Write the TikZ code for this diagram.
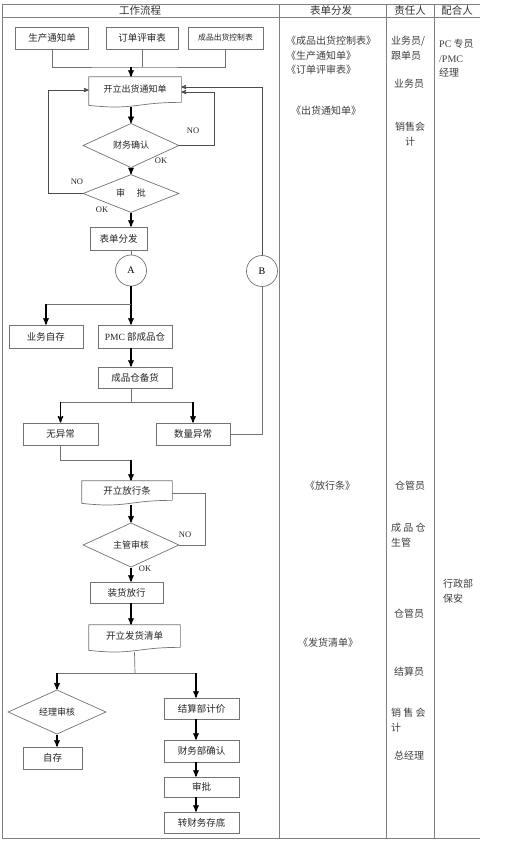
\documentclass[tikz,border=0pt]{standalone}
\usepackage{fontspec}
\setmainfont{Liberation Serif}
\newfontfamily\cjk{Noto Sans CJK SC}
\usetikzlibrary{arrows,shapes,calc}
\newcommand{\lat}[1]{{\rmfamily #1}}
% document symbol: box with wavy bottom
\newcommand{\docline}[1]{%
  \draw[shapeline] (#1.north west) -- (#1.north east) -- ([yshift=5pt]#1.south east)
    .. controls ([yshift=5pt]#1.south) and ([yshift=-3pt]#1.south) .. ([yshift=2pt]#1.south west) -- cycle;}

\begin{document}
\begin{tikzpicture}[x=1pt,y=-1pt,>=stealth',node distance=40pt]
  \tikzstyle{rule}=[draw=black!50,line width=0.8pt]
  \tikzstyle{shapeline}=[draw=black!55,line width=0.7pt]
  \tikzstyle{box}=[rectangle,draw=black!55,line width=0.7pt,text=black!85,
        font=\cjk\fontsize{9.5}{11}\selectfont,minimum width=74pt,minimum height=22pt,inner sep=1pt]
  \tikzstyle{doc}=[box,draw=none,text depth=6pt]
  \tikzstyle{check}=[diamond,draw=black!55,line width=0.7pt,text=black!85,
        font=\cjk\fontsize{9}{11}\selectfont,minimum width=96pt,minimum height=26pt,inner sep=0pt]
  \tikzstyle{joint}=[circle,draw=black!55,line width=0.7pt,minimum size=31pt,
        font=\fontsize{10}{12}\selectfont,inner sep=0pt]
  \tikzstyle{go}=[->,draw=black,line width=1.3pt]
  \tikzstyle{wire}=[draw=black!55,line width=0.7pt]
  \tikzstyle{back}=[->,draw=black!70,line width=0.8pt]
  \tikzstyle{tag}=[font=\fontsize{8.5}{10}\selectfont,text=black!85,inner sep=0pt]
  \tikzstyle{head}=[font=\cjk\fontsize{10.5}{12}\selectfont,text=black!80,inner sep=0pt]
  \tikzstyle{note}=[font=\cjk\fontsize{10}{14.5}\selectfont,text=black!75,inner sep=0pt,align=left]

  \path[use as bounding box,fill=white] (0,0) rectangle (506,843);

  % table frame
  \draw[rule] (2,4) -- (480,4) (2,17) -- (480,17) (2,838) -- (480,838);
  \draw[rule] (2,4) -- (2,838) (279,4) -- (279,838) (386,4) -- (386,838) (434,4) -- (434,838);
  \node[head] (h1) at (140,10.5) {工作流程};
  \node[head] (h2) at (331,10.5) {表单分发};
  \node[head] (h3) at (410,10.5) {责任人};
  \node[head] (h4) at (457,10.5) {配合人};

  % work flow
  \node[box,minimum width=73pt] (gen) at (52,38) {生产通知单};
  \node[box,minimum width=72pt,node distance=90pt,right of=gen] (ord) {订单评审表};
  \node[box,minimum width=75pt,node distance=83.5pt,right of=ord,
        font=\cjk\fontsize{7.8}{9}\selectfont] (ctrl) {成品出货控制表};
  \node[doc,minimum width=92pt,minimum height=30pt,font=\cjk\fontsize{9}{11}\selectfont] (notice) at (135,92) {开立出货通知单};
  \docline{notice}
  \node[check,minimum height=25pt] (fin) at (131,145.5) {财务确认};
  \node[check,minimum height=27pt,node distance=48pt,below of=fin] (appr) {审\hspace{1.3em}批};
  \node[box,minimum width=57pt,minimum height=23pt] (dist) at (118.5,238.5) {表单分发};
  \node[joint] (A) at (131,270.5) {A};
  \node[joint] (B) at (262,271) {B};
  \node[box,minimum height=23pt] (self) at (46,336.5) {业务自存};
  \node[box,minimum height=23pt,node distance=89pt,right of=self] (pmc) {\lat{PMC} 部成品仓};
  \node[box,minimum height=21pt,node distance=41pt,below of=pmc] (prep) {成品仓备货};
  \node[box,minimum width=75pt] (ok) at (60.5,434) {无异常};
  \node[box,node distance=132.5pt,right of=ok] (qty) {数量异常};
  \node[doc,minimum width=90pt,minimum height=24pt] (release) at (127,493) {开立放行条};
  \docline{release}
  \node[check] (sup) at (131,545) {主管审核};
  \node[box,minimum width=73pt,minimum height=21pt] (load) at (126.5,592.5) {装货放行};
  \node[doc,minimum width=91pt,minimum height=27pt] (ship) at (134.5,638.5) {开立发货清单};
  \docline{ship}
  \node[check,minimum width=98pt,minimum height=30pt] (mgr) at (57,712) {经理审核};
  \node[box,minimum width=59pt] (keep) at (52.5,758) {自存};
  \node[box,minimum width=75pt,minimum height=21pt] (price) at (201.5,708.5) {结算部计价};
  \node[box,minimum width=75pt,node distance=42.5pt,below of=price] (fcon) {财务部确认};
  \node[box,minimum width=75pt,minimum height=20pt,node distance=36pt,below of=fcon] (fin2) {审批};
  \node[box,minimum width=75pt,minimum height=21pt,node distance=35.5pt,below of=fin2] (arch) {转财务存底};

  \node[tag] (no1) at (193,131) {NO};
  \node[tag] (ok1) at (161,161) {OK};
  \node[tag] (no2) at (77,182) {NO};
  \node[tag] (ok2) at (102,210) {OK};
  \node[tag] (no3) at (185,535) {NO};
  \node[tag] (ok3) at (145,569) {OK};

  % connectors
  \coordinate (j1) at (131,67);
  \draw[wire] (gen.south) |- (j1) -| (ctrl.south);
  \draw[wire] (ord.south) -- (ord.south |- j1);
  \draw[go] (j1) -- (j1 |- notice.north);
  \draw[go] (notice.south -| fin) -- (fin.north);
  \draw[go] (fin.south) -- (appr.north);
  \draw[go] (appr.south) -- (appr.south |- dist.north);
  \draw[wire] (dist.south -| A) -- (A.north);
  \draw[back] (fin.east) -- ++(35,0) |- (notice.east);
  \draw[back] (appr.west) -- ++(-34,0) |- ([yshift=2pt]notice.west);
  \draw[back] (B.north) |- ([yshift=5pt]notice.east);

  \coordinate (j2) at (131,304);
  \draw[go] (A.south) -- (A.south |- pmc.north);
  \draw[wire] (j2) -- (self.north |- j2);
  \draw[go] (self.north |- j2) -- (self.north);
  \draw[go] (pmc.south -| A) -- (prep.north -| A);
  \coordinate (j3) at (131,402);
  \draw[wire] (prep.south -| A) -- (j3);
  \draw[wire] (ok.north |- j3) -- (qty.north |- j3);
  \draw[go] (ok.north |- j3) -- (ok.north);
  \draw[go] (qty.north |- j3) -- (qty.north);
  \draw[wire] (B.south) |- (qty.east);

  \coordinate (j4) at (131,460);
  \draw[wire] (ok.south) |- (j4);
  \draw[go] (j4) -- (release.north -| j4);
  \draw[go] (release.south -| sup) -- (sup.north);
  \draw[wire] (sup.east) -- ++(26,0) |- (release.east);
  \draw[go] (sup.south) -- (sup.south |- load.north);
  \draw[go] (load.south -| sup) -- (ship.north -| sup);

  \coordinate (j5) at (135,673);
  \coordinate (k) at (196,673);
  \draw[wire] (ship.south) -- (j5);
  \draw[wire] (mgr.north |- j5) -- (k);
  \draw[go] (mgr.north |- j5) -- (mgr.north);
  \draw[go] (k) -- (k |- price.north);
  \draw[go] (mgr.south) -- (mgr.south |- keep.north);
  \draw[go] (price.south -| k) -- (fcon.north -| k);
  \draw[go] (fcon.south -| k) -- (fin2.north -| k);
  \draw[go] (fin2.south -| k) -- (arch.north -| k);

  % forms
  \node[note,anchor=north west] (f1) at (286,36) {《成品出货控制表》\\《生产通知单》\\《订单评审表》};
  \node[note] (f2) at (326,111) {《出货通知单》};
  \node[note] (f3) at (330,486) {《放行条》};
  \node[note] (f4) at (328,643) {《发货清单》};

  % responsible
  \node[note,anchor=north west] (r1) at (391,36) {业务员/\\跟单员};
  \node[note] (r2) at (409,84) {业务员};
  \node[note,align=center] (r3) at (410,134) {销售会\\计};
  \node[note] (r4) at (410,486) {仓管员};
  \node[note,anchor=north west] (r5) at (391,523) {成 品 仓\\生管};
  \node[note] (r6) at (409,614) {仓管员};
  \node[note] (r7) at (409,672) {结算员};
  \node[note,anchor=north west] (r8) at (391,708) {销 售 会\\计};
  \node[note] (r9) at (409,756) {总经理};

  % partners
  \node[note,anchor=north west] (c1) at (439,39) {\lat{PC} 专员\\\lat{/PMC}\\经理};
  \node[note,anchor=north west] (c2) at (443,579) {行政部\\保安};
\end{tikzpicture}
\end{document}
